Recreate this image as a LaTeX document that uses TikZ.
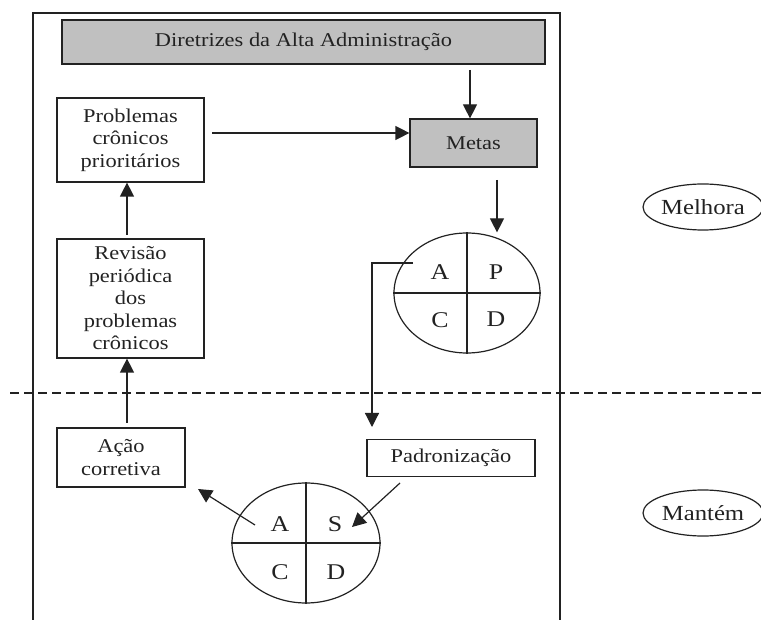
\documentclass[tikz,border=0pt]{standalone}
\usepackage{fontspec}
\setmainfont{Liberation Serif}[FakeStretch=1.15]
\usetikzlibrary{arrows.meta,shapes.geometric}
\definecolor{ink}{HTML}{222222}
\definecolor{boxgray}{HTML}{C0C0C0}
\tikzset{
  ln/.style={draw=ink, line width=1.2pt},
  arr/.style={ln, -{Triangle[length=14pt,width=14pt]}},
  box/.style={ln, rectangle, inner sep=0pt, align=center, text=ink,
    font=\fontsize{19.5}{22.5}\selectfont},
  lett/.style={text=ink, font=\fontsize{22.5}{24}\selectfont, inner sep=0pt},
  tag/.style={ln, ellipse, inner sep=0pt, text=ink, font=\fontsize{21.5}{24}\selectfont},
}
\begin{document}
\begin{tikzpicture}[x=1pt,y=-1pt]
\useasboundingbox (0,0) rectangle (761,620);
% frame
\draw[ln] (33,620) -- (33,13) -- (560,13) -- (560,620);
% dashed divider
\draw[ln, dash pattern=on 9pt off 5pt] (10,393) -- (761,393);

% nodes
\node[box, fill=boxgray, minimum width=483pt, minimum height=44pt] (dir) at (303.5,42) {Diretrizes da Alta Administração};
\node[box, fill=boxgray, minimum width=127pt, minimum height=48pt] (metas) at (473.5,143) {Metas};
\node[box, minimum width=147pt, minimum height=84pt] (prob) at (130.5,140) {Problemas\\crônicos\\prioritários};
\node[box, minimum width=147pt, minimum height=119pt] (rev) at (130.5,298.5) {Revisão\\periódica\\dos\\problemas\\crônicos};
\node[box, minimum width=128pt, minimum height=59pt] (acao) at (121,457.5) {Ação\\corretiva};
\node[box, minimum width=168pt, minimum height=37pt] (padr) at (451,458) {Padronização};

% upper PDCA
\node[ln, ellipse, minimum width=146pt, minimum height=120pt, inner sep=0pt] (pdca) at (467,293) {};
\draw[ln] (pdca.north) -- (pdca.south);
\draw[ln] (pdca.west) -- (pdca.east);
\node[lett] (pa) at (440,272) {A};
\node[lett] (pp) at (496,272) {P};
\node[lett] (pc) at (440,320) {C};
\node[lett] (pd) at (496,319) {D};

% lower SDCA
\node[ln, ellipse, minimum width=148pt, minimum height=120pt, inner sep=0pt] (sdca) at (306,543) {};
\draw[ln] (sdca.north) -- (sdca.south);
\draw[ln] (sdca.west) -- (sdca.east);
\node[lett] (sa) at (280,524) {A};
\node[lett] (ss) at (335,524) {S};
\node[lett] (sc) at (280,572) {C};
\node[lett] (sd) at (336,572) {D};

% tags
\node[tag, minimum width=120pt, minimum height=46pt] (melhora) at (703,207) {Melhora};
\node[tag, minimum width=120pt, minimum height=46pt] (mantem) at (703,513) {Mantém};

% coordinates for connectors
\coordinate (d1) at (470,70);
\coordinate (p1) at (212,133);
\coordinate (m1) at (497,180);
\coordinate (a1) at (413,263);
\coordinate (a2) at (372,263);
\coordinate (a3) at (372,427);
\coordinate (r1) at (127,235);
\coordinate (c1) at (127,423);
\coordinate (s1) at (400,483);
\coordinate (s2) at (352,527);
\coordinate (sa1) at (255,525);
\coordinate (sa2) at (198,489);

% connectors
\draw[arr] (d1) -- (metas.north -| d1);
\draw[arr] (p1) -- (metas.west |- p1);
\draw[arr] (m1) -- (pdca.north -| m1);
\draw[arr] (a1) -- (a2) -- (a3);
\draw[arr] (r1) -- (prob.south -| r1);
\draw[arr] (c1) -- (rev.south -| c1);
\draw[arr] (s1) -- (s2);
\draw[arr] (sa1) -- (sa2);
\end{tikzpicture}
\end{document}
